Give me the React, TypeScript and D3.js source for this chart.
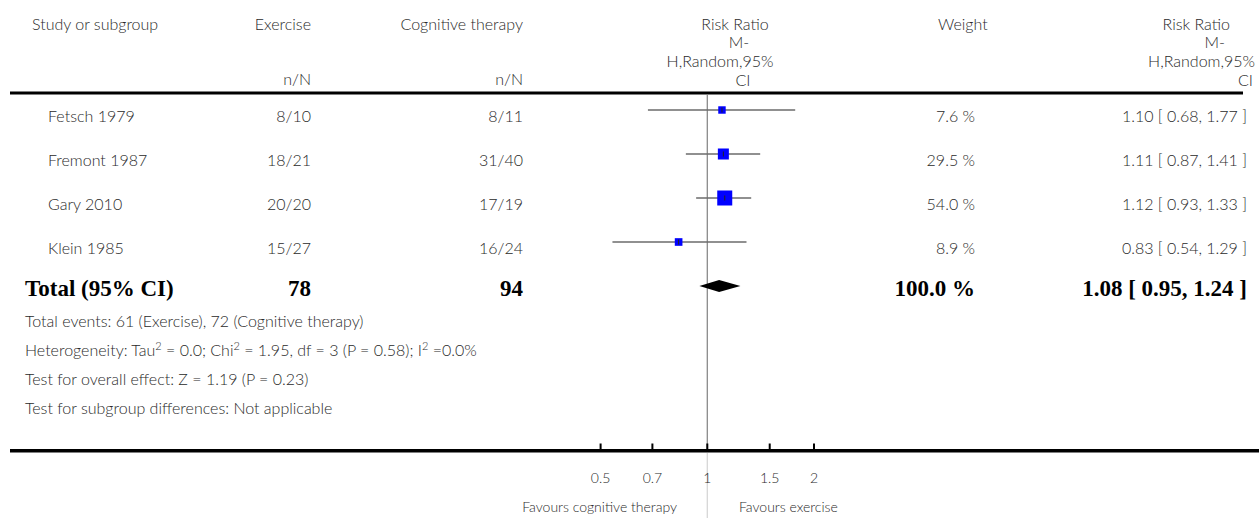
import { useEffect, useRef } from 'react';
import * as d3 from 'd3';

const studies = ['Fetsch 1979', 'Fremont 1987', 'Gary 2010', 'Klein 1985'];
const exerciseNN = ['8/10', '18/21', '20/20', '15/27'];
const cognitiveNN = ['8/11', '31/40', '17/19', '16/24'];
const riskRatio = [1.1, 1.11, 1.12, 0.83];
const lowerCI = [0.68, 0.87, 0.93, 0.54];
const upperCI = [1.77, 1.41, 1.33, 1.29];
const weights = [7.6, 29.5, 54.0, 8.9];

const totalExercise = 78;
const totalCognitive = 94;
const totalWeight = 100.0;
const totalRR = 1.08;
const totalLower = 0.95;
const totalUpper = 1.24;

const tickValues = [0.5, 0.7, 1, 1.5, 2];
const tickLabels = ['0.5', '0.7', '1', '1.5', '2'];

// "^" marks a superscript 2
const footnotes = [
  'Total events: 61 (Exercise), 72 (Cognitive therapy)',
  'Heterogeneity: Tau^ = 0.0; Chi^ = 1.95, df = 3 (P = 0.58); I^ =0.0%',
  'Test for overall effect: Z = 1.19 (P = 0.23)',
  'Test for subgroup differences: Not applicable',
];

const W = 1259;
const H = 518;
const SANS = 'Lato, "Noto Sans", sans-serif';
const SERIF = '"Liberation Serif", "DejaVu Serif", serif';
const GREY = '#2a2a2a';

const fmt2 = d3.format('.2f');
const fmtW = (w: number) => `${d3.format('.1f')(w)} %`;

export default function App() {
  const svgRef = useRef<SVGSVGElement>(null);

  useEffect(() => {
    if (!svgRef.current) return;
    const svg = d3.select(svgRef.current);
    svg.selectAll('*').remove();

    // log scale for risk ratio, 1 sits at the reference line
    const x = d3.scaleLog().domain([0.5, 2]).range([600.6, 814]);
    // rows: 0..3 studies, 4 = total
    const y = d3.scaleLinear().domain([0, 4]).range([110, 286]);
    const box = d3.scaleLinear().domain([0, 100]).range([6.2, 22.5]);

    const txt = (xx: number, yy: number, s: string, anchor = 'start', size = 16) =>
      svg.append('text')
        .attr('x', xx).attr('y', yy)
        .attr('text-anchor', anchor)
        .attr('font-family', SANS)
        .attr('font-weight', 300)
        .attr('font-size', size)
        .attr('fill', GREY)
        .text(s);

    // header
    txt(32, 30, 'Study or subgroup');
    txt(311, 30, 'Exercise', 'end');
    txt(523, 30, 'Cognitive therapy', 'end');
    txt(311, 85, 'n/N', 'end');
    txt(523, 85, 'n/N', 'end');
    txt(735, 30, 'Risk Ratio', 'middle');
    txt(739, 48, 'M-', 'middle');
    txt(720, 67, 'H,Random,95%', 'middle');
    txt(743, 86, 'CI', 'middle');
    txt(938, 30, 'Weight');
    txt(1230, 30, 'Risk Ratio', 'end');
    txt(1225, 48, 'M-', 'end');
    txt(1255, 67, 'H,Random,95%', 'end');
    txt(1253, 86, 'CI', 'end');

    svg.append('rect').attr('x', 10).attr('y', 91.5).attr('width', 1233).attr('height', 3).attr('fill', '#000');

    // reference line at RR = 1
    svg.append('line')
      .attr('x1', x(1)).attr('x2', x(1)).attr('y1', 95).attr('y2', 449)
      .attr('stroke', '#8a8a8a').attr('stroke-width', 1.3);
    svg.append('line')
      .attr('x1', x(1)).attr('x2', x(1)).attr('y1', 453).attr('y2', H)
      .attr('stroke', '#d6d6d6').attr('stroke-width', 1.3);

    // study rows
    studies.forEach((s, i) => {
      const yy = y(i);
      const base = yy + 11.5;
      txt(48, base, s);
      txt(311, base, exerciseNN[i], 'end');
      txt(523, base, cognitiveNN[i], 'end');
      txt(975, base, fmtW(weights[i]), 'end');
      txt(1247, base, `${fmt2(riskRatio[i])} [ ${fmt2(lowerCI[i])}, ${fmt2(upperCI[i])} ]`, 'end');

      svg.append('line')
        .attr('x1', x(lowerCI[i])).attr('x2', x(upperCI[i]))
        .attr('y1', yy).attr('y2', yy)
        .attr('stroke', '#6b6b6b').attr('stroke-width', 1.6);
      const b = box(weights[i]);
      svg.append('rect')
        .attr('x', x(riskRatio[i]) - b / 2).attr('y', yy - b / 2)
        .attr('width', b).attr('height', b)
        .attr('fill', '#0000ff');
      svg.append('line')
        .attr('x1', x(riskRatio[i])).attr('x2', x(riskRatio[i]))
        .attr('y1', yy - 2.5).attr('y2', yy + 2.5)
        .attr('stroke', '#222').attr('stroke-width', 1);
    });

    // total row
    const ty = y(4);
    const bold = (xx: number, s: string, anchor = 'start') =>
      svg.append('text')
        .attr('x', xx).attr('y', ty + 9.5)
        .attr('text-anchor', anchor)
        .attr('font-family', SERIF)
        .attr('font-weight', 'bold')
        .attr('font-size', 23)
        .attr('fill', '#000')
        .text(s);
    bold(25, 'Total (95% CI)');
    bold(311, String(totalExercise), 'end');
    bold(523, String(totalCognitive), 'end');
    bold(975, fmtW(totalWeight), 'end');
    bold(1247, `${fmt2(totalRR)} [ ${fmt2(totalLower)}, ${fmt2(totalUpper)} ]`, 'end');

    const diamond = [
      [x(totalLower), ty],
      [x(totalRR), ty - 6],
      [x(totalUpper), ty],
      [x(totalRR), ty + 6],
    ] as [number, number][];
    svg.append('path')
      .attr('d', d3.line()(diamond) + 'Z')
      .attr('fill', '#000');

    // footnotes, with real superscripts
    footnotes.forEach((f, i) => {
      const t = txt(25, 327 + i * 29, '', 'start', 16);
      f.split('^').forEach((part, j) => {
        if (j > 0) {
          t.append('tspan').attr('font-size', 11).attr('dy', -6).text('2');
          t.append('tspan').attr('dy', 6).text(part);
        } else {
          t.append('tspan').text(part);
        }
      });
    });

    // bottom axis
    svg.append('rect').attr('x', 10).attr('y', 449).attr('width', W - 10).attr('height', 3.5).attr('fill', '#000');
    tickValues.forEach((t, i) => {
      svg.append('rect')
        .attr('x', x(t) - 1).attr('y', 443.5)
        .attr('width', 2).attr('height', 7)
        .attr('fill', '#000');
      txt(x(t), 483, tickLabels[i], 'middle', 14);
    });

    txt(677, 512, 'Favours cognitive therapy', 'end', 14);
    txt(739, 512, 'Favours exercise', 'start', 14);
  }, []);

  return (
    <div style={{ position: 'absolute', left: 0, top: 0, background: '#fff' }}>
      <svg ref={svgRef} width={W} height={H} />
    </div>
  );
}
